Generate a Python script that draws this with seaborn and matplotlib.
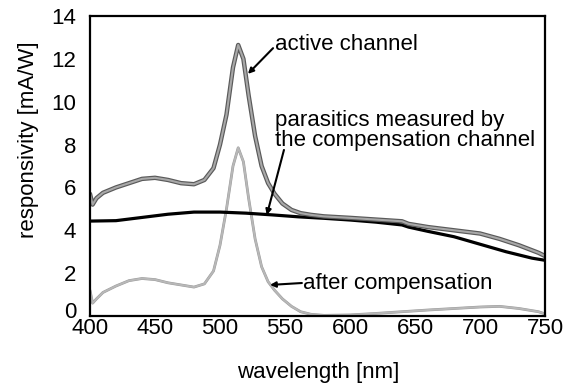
import pandas as pd
import seaborn as sns
import matplotlib
matplotlib.use("Agg")
import matplotlib.pyplot as plt
import matplotlib.patheffects as pe
import matplotlib.transforms as mtransforms

# wavelength grid [nm] and the three responsivity curves [mA/W]
wavelength = [400, 402, 405, 410, 420, 430, 440, 450, 460, 470, 480, 488, 495, 500, 505,
              510, 514, 518, 522, 527, 532, 537, 542, 548, 555, 562, 570, 580, 600,
              620, 640, 645, 660, 680, 700, 715, 730, 745, 750]
active = [5.7, 5.2, 5.5, 5.75, 6.0, 6.2, 6.4, 6.45, 6.35, 6.2, 6.15, 6.35, 6.9, 8.0, 9.4,
          11.6, 12.65, 12.0, 10.3, 8.4, 7.0, 6.2, 5.7, 5.25, 4.95, 4.8, 4.72, 4.65, 4.58,
          4.5, 4.42, 4.3, 4.15, 4.0, 3.85, 3.6, 3.3, 2.95, 2.8]
after = [1.2, 0.6, 0.8, 1.1, 1.4, 1.65, 1.75, 1.7, 1.55, 1.45, 1.35, 1.5, 2.1, 3.3, 5.0,
         7.0, 7.85, 7.2, 5.5, 3.6, 2.3, 1.6, 1.2, 0.8, 0.45, 0.2, 0.08, 0.03, 0.05,
         0.12, 0.2, 0.22, 0.28, 0.35, 0.42, 0.45, 0.35, 0.2, 0.1]
paras_wl = [400, 420, 440, 460, 480, 500, 520, 540, 560, 580, 600, 620, 640, 645,
            660, 680, 700, 720, 740, 750]
parasitic = [4.43, 4.45, 4.6, 4.75, 4.85, 4.85, 4.8, 4.72, 4.63, 4.56, 4.48, 4.38,
             4.25, 4.15, 3.95, 3.7, 3.35, 3.0, 2.7, 2.6]

x_ticks = [400, 450, 500, 550, 600, 650, 700, 750]
y_ticks = [0, 2, 4, 6, 8, 10, 12, 14]

df = pd.DataFrame({"wl": wavelength, "active": active, "after": after})
dp = pd.DataFrame({"wl": paras_wl, "parasitic": parasitic})

sns.set_style("white")
plt.rcParams["font.family"] = ["Liberation Sans", "DejaVu Sans"]
plt.rcParams["text.color"] = "black"
plt.rcParams["axes.labelcolor"] = "black"

fig = plt.figure(figsize=(5.71, 3.91), dpi=100)
ax = fig.add_axes([0.1576, 0.1918, 0.7969, 0.7672])

sns.lineplot(data=df, x="wl", y="after", ax=ax, color="#b8b8b8", lw=1.4,
             path_effects=[pe.Stroke(linewidth=2.0, foreground="#9a9a9a"), pe.Normal()])
sns.lineplot(data=dp, x="wl", y="parasitic", ax=ax, color="black", lw=2.3)
sns.lineplot(data=df, x="wl", y="active", ax=ax, color="#a8a8a8", lw=1.5,
             path_effects=[pe.Stroke(linewidth=3.2, foreground="#5a5a5a"), pe.Normal()])

ax.set_xlim(400, 750)
ax.set_ylim(0, 14)
ax.set_xticks(x_ticks)
ax.set_yticks(y_ticks)
ax.tick_params(axis="both", direction="in", length=8, width=1.5, labelsize=16,
               colors="black")
ax.tick_params(axis="x", pad=1.5)
ax.tick_params(axis="y", pad=10)
for s in ax.spines.values():
    s.set_linewidth(1.6)
    s.set_color("black")

# nudge the "0" label up a little so it doesn't collide with "400"
lbl0 = ax.get_yticklabels()[0]
lbl0.set_transform(lbl0.get_transform() + mtransforms.ScaledTranslation(0, 4 / 72, fig.dpi_scale_trans))

ax.set_xlabel("wavelength [nm]", fontsize=16, va="center")
ax.set_ylabel("responsivity [mA/W]", fontsize=16, va="center")
ax.xaxis.set_label_coords(0.501, -0.187)
ax.yaxis.set_label_coords(-0.136, 0.587)

arrow = dict(arrowstyle="-|>", color="black", lw=1.5, mutation_scale=8,
             shrinkA=0, shrinkB=0)
ax.text(542, 12.65, "active channel", fontsize=16, va="center", ha="left")
ax.annotate("", xy=(521.5, 11.3), xytext=(540.8, 12.5), arrowprops=arrow)

ax.text(542, 8.66, "parasitics measured by\nthe compensation channel", fontsize=16,
        va="center", ha="left", linespacing=0.95)
ax.annotate("", xy=(536, 4.71), xytext=(549.2, 7.75), arrowprops=arrow)

ax.text(563.5, 1.54, "after compensation", fontsize=16, va="center", ha="left")
ax.annotate("", xy=(538.5, 1.45), xytext=(563, 1.54), arrowprops=arrow)

fig.savefig("out.png", dpi=100)
